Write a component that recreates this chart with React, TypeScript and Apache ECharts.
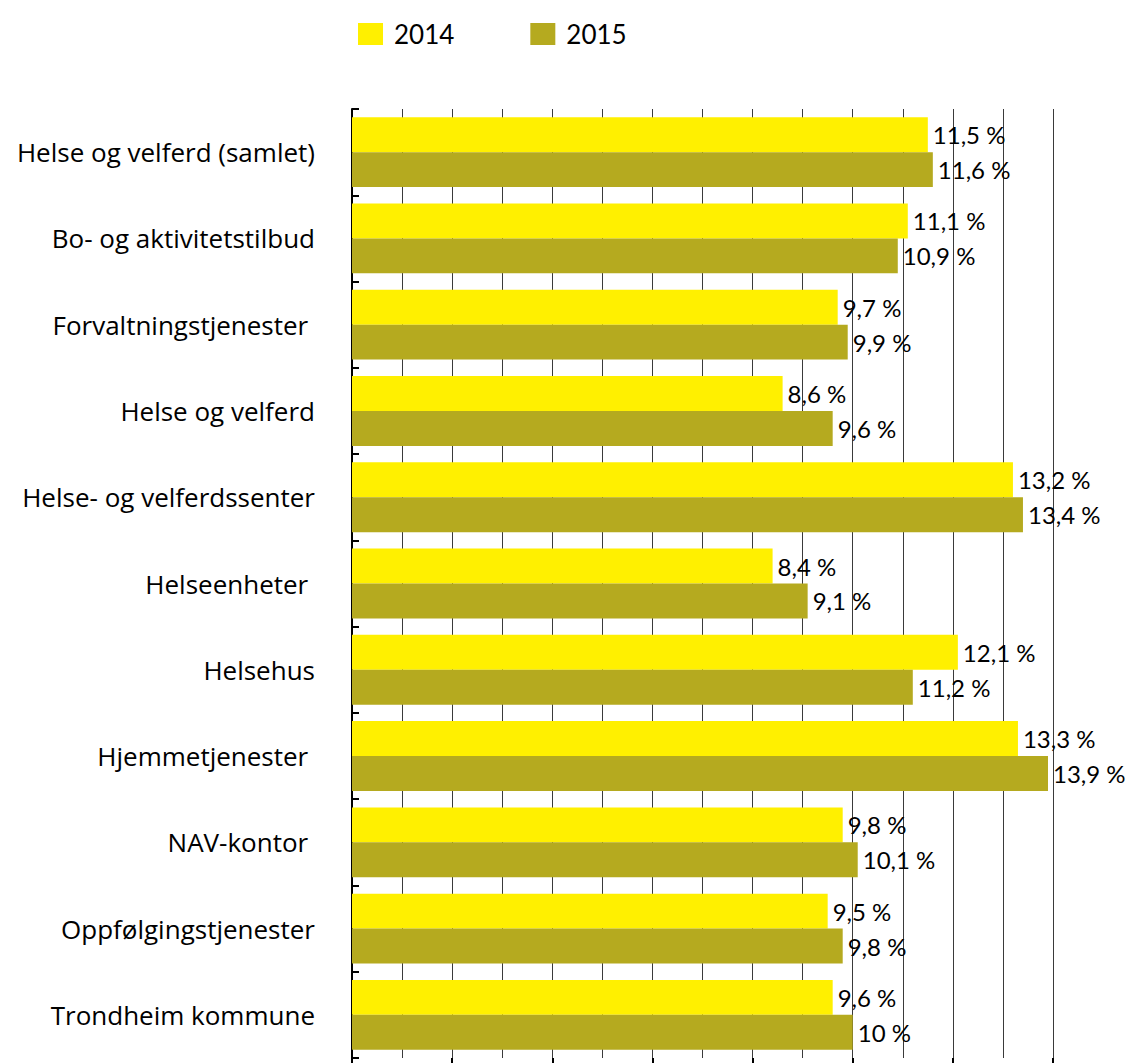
import React, { useEffect, useRef } from "react";
import * as echarts from "echarts";

const categories = [
  "Helse og velferd (samlet)",
  "Bo- og aktivitetstilbud",
  "Forvaltningstjenester ",
  "Helse og velferd",
  "Helse- og velferdssenter",
  "Helseenheter ",
  "Helsehus",
  "Hjemmetjenester ",
  "NAV-kontor ",
  "Oppfølgingstjenester",
  "Trondheim kommune",
];
const values2014 = [11.5, 11.1, 9.7, 8.6, 13.2, 8.4, 12.1, 13.3, 9.8, 9.5, 9.6];
const values2015 = [11.6, 10.9, 9.9, 9.6, 13.4, 9.1, 11.2, 13.9, 10.1, 9.8, 10];
const seriesNames = ["2014", "2015"];

const FONT = "Lato, 'Open Sans', sans-serif";
const CAT_FONT = "'Open Sans', 'Noto Sans', sans-serif";

const fmt = (p: any) => String(p.value).replace(".", ",") + " %";

export default function App() {
  const ref = useRef<HTMLDivElement>(null);
  useEffect(() => {
    if (!ref.current) return;
    const chart = echarts.init(ref.current, undefined, { renderer: "svg" });
    const labelCfg = {
      show: true,
      position: "right",
      distance: 5,
      color: "#000",
      fontSize: 24,
      fontFamily: FONT,
      formatter: fmt,
    };
    chart.setOption({
      animation: false,
      backgroundColor: "#fff",
      legend: {
        top: 16,
        left: 353,
        itemWidth: 25,
        itemHeight: 22,
        itemGap: 76,
        icon: "rect",
        textStyle: { fontSize: 26, fontFamily: FONT, color: "#000", padding: [0, 0, 0, 6] },
        data: seriesNames,
      },
      grid: { left: 352, top: 109, width: 701, height: 949 },
      xAxis: [
        {
          type: "value",
          min: 0,
          max: 14,
          interval: 1,
          axisLine: { show: false },
          axisTick: { show: false },
          axisLabel: { show: false },
          splitLine: { show: true, lineStyle: { color: "#3a3a3a", width: 1 } },
        },
        {
          type: "value",
          position: "bottom",
          min: 0,
          max: 14,
          interval: 2,
          axisLine: { show: false },
          axisTick: { show: true, length: 6, lineStyle: { color: "#000", width: 2 } },
          axisLabel: { show: false },
          splitLine: { show: false },
        },
      ],
      yAxis: {
        type: "category",
        inverse: true,
        data: categories,
        axisLine: { show: true, lineStyle: { color: "#000", width: 2 } },
        axisTick: { show: true, inside: true, length: 7, lineStyle: { color: "#000", width: 2 } },
        axisLabel: {
          color: "#000",
          fontSize: 26,
          fontFamily: CAT_FONT,
          margin: 37,
        },
      },
      series: [
        {
          name: seriesNames[0],
          type: "bar",
          xAxisIndex: 0,
          data: values2014,
          itemStyle: { color: "#FFF000" },
          barGap: "0%",
          barCategoryGap: "19%",
          label: labelCfg,
        },
        {
          name: seriesNames[1],
          type: "bar",
          xAxisIndex: 0,
          data: values2015,
          itemStyle: { color: "#B5AA1F" },
          barGap: "0%",
          barCategoryGap: "19%",
          label: labelCfg,
        },
      ],
    });
    return () => chart.dispose();
  }, []);
  return (
    <div
      ref={ref}
      style={{ position: "fixed", left: 0, top: 0, width: 1135, height: 1063 }}
    />
  );
}
